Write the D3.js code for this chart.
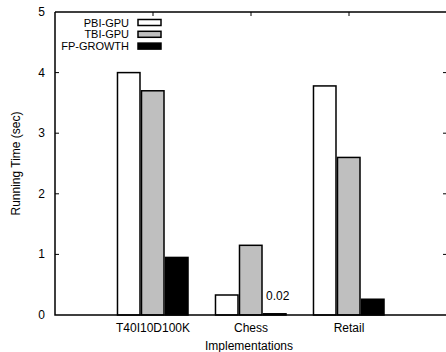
<!DOCTYPE html>
<html><head><meta charset="utf-8">
<script src="https://cdn.jsdelivr.net/npm/d3@7"></script>
<style>body{margin:0;background:#fff}svg{display:block}text{font-family:"Liberation Sans",Arial,sans-serif;font-size:12px;fill:#000}</style>
</head><body><svg id="c" width="446" height="352"></svg>
<script>
const categories = ["T40I10D100K", "Chess", "Retail"];
const seriesNames = ["PBI-GPU", "TBI-GPU", "FP-GROWTH"];
const pbiGpu = [4.0, 0.33, 3.78];
const tbiGpu = [3.7, 1.15, 2.6];
const fpGrowth = [0.95, 0.02, 0.26];
const yTicks = [0, 1, 2, 3, 4, 5];
const seriesFill = ["#ffffff", "#bfbfbf", "#000000"];
const annotation = {category: "Chess", text: "0.02"};

(function () {
const svg = d3.select("#c");
const pL = 55, pR = 447, pT = 12, pB = 315;
const x = d3.scaleLinear().domain([-1, 3]).range([pL, pR]);
const y = d3.scaleLinear().domain([0, 5]).range([pB, pT]);
const series = [pbiGpu, tbiGpu, fpGrowth];
const bw = 0.245;

series.forEach((vals, si) => {
  svg.append("g").selectAll("rect").data(vals).join("rect")
    .attr("x", (d, i) => x(i + (si - 1) * bw - bw / 2) + 0.5)
    .attr("width", x(bw) - x(0) - 1.5)
    .attr("y", d => y(d))
    .attr("height", d => y(0) - y(d))
    .attr("fill", seriesFill[si])
    .attr("stroke", "#000").attr("stroke-width", 1.5);
});

svg.append("path").attr("d", `M${pL},${pT}H${pR}M${pL},${pT}V${pB}H${pR}`)
  .attr("fill", "none").attr("stroke", "#000").attr("stroke-width", 1.5);

yTicks.forEach(t => {
  if (t > 0 && t < 5) {
    svg.append("line").attr("x1", pL).attr("x2", pL + 4).attr("y1", y(t)).attr("y2", y(t)).attr("stroke", "#000");
    svg.append("line").attr("x1", pR - 4).attr("x2", pR).attr("y1", y(t)).attr("y2", y(t)).attr("stroke", "#000");
  }
  svg.append("text").attr("x", pL - 10).attr("y", y(t) + 4).attr("text-anchor", "end").text(t);
});

categories.forEach((c, i) => {
  svg.append("line").attr("x1", x(i)).attr("x2", x(i)).attr("y1", pT).attr("y2", pT + 4).attr("stroke", "#000");
  svg.append("text").attr("x", x(i)).attr("y", 332).attr("text-anchor", "middle").text(c);
});

svg.append("text").attr("x", (pL + pR) / 2 - 2).attr("y", 350).attr("text-anchor", "middle").text("Implementations");
svg.append("text").attr("transform", `translate(20,${(pT + pB) / 2}) rotate(-90)`).attr("text-anchor", "middle").text("Running Time (sec)");

const ai = categories.indexOf(annotation.category);
svg.append("text").attr("x", x(ai + bw / 2) + 3).attr("y", 300).text(annotation.text);

seriesNames.forEach((n, i) => {
  const ly = 22.5 + i * 11.8;
  svg.append("text").attr("x", 129).attr("y", ly + 4).attr("text-anchor", "end").style("font-size", "11px").text(n);
  svg.append("rect").attr("x", 138).attr("y", ly - 3).attr("width", 23).attr("height", 6)
    .attr("fill", seriesFill[i]).attr("stroke", "#000").attr("stroke-width", 1.5);
});
})();
</script></body></html>
